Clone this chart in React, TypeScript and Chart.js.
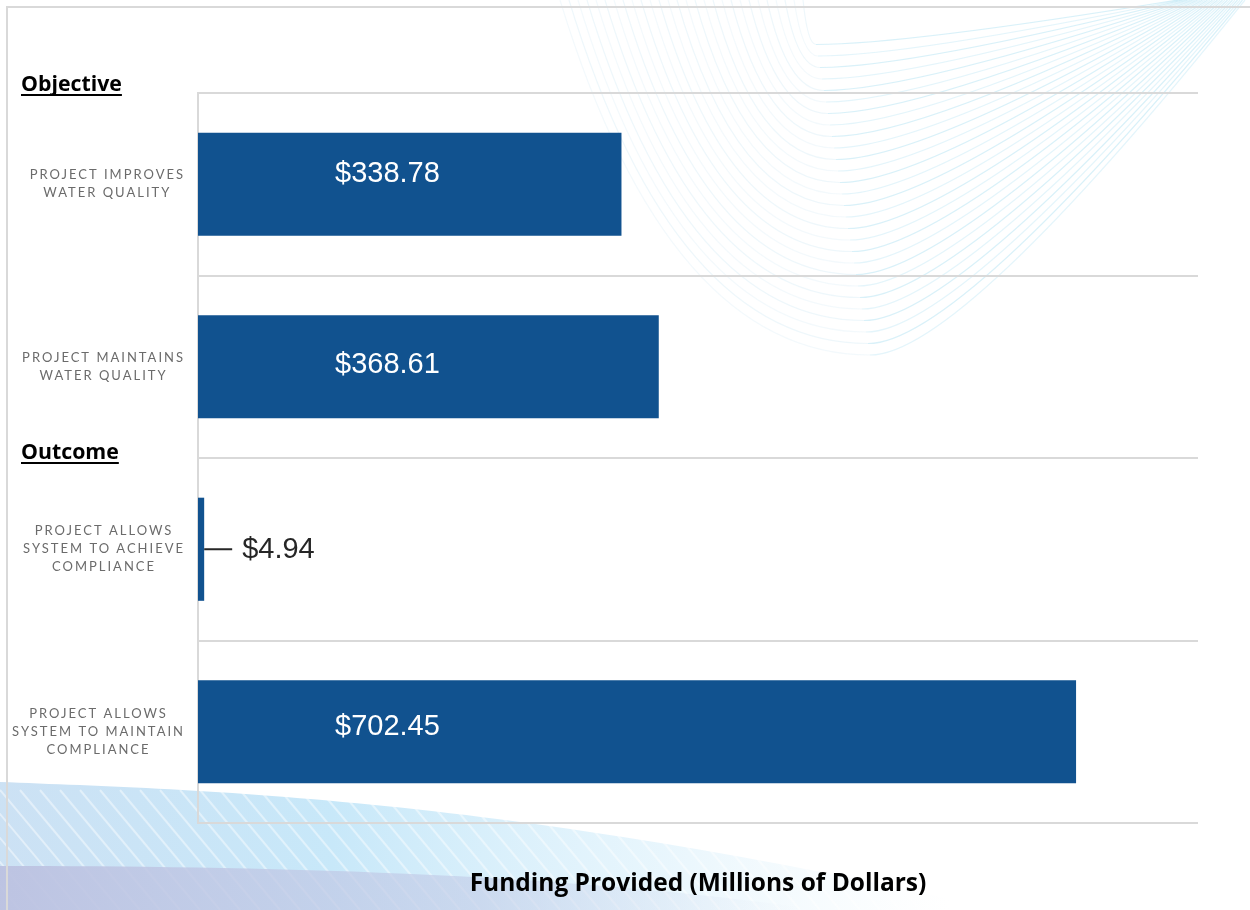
import React, { useEffect, useRef } from "react";
import { Chart, registerables } from "chart.js";

Chart.register(...registerables);

const categories: string[][] = [
  ["PROJECT IMPROVES", "WATER QUALITY"],
  ["PROJECT MAINTAINS", "WATER QUALITY"],
  ["PROJECT ALLOWS", "SYSTEM TO ACHIEVE", "COMPLIANCE"],
  ["PROJECT ALLOWS", "SYSTEM TO MAINTAIN", "COMPLIANCE"],
];
const funding: number[] = [338.78, 368.61, 4.94, 702.45];
const valueLabels: string[] = ["$338.78", "$368.61", "$4.94", "$702.45"];
const xMax = 800;
const sectionHeaders: { text: string; beforeIndex: number }[] = [
  { text: "Objective", beforeIndex: 0 },
  { text: "Outcome", beforeIndex: 2 },
];
const axisTitle = "Funding Provided (Millions of Dollars)";

// styling
const BAR_COLOR = "#11528F";
const GRID_COLOR = "#d9d9d9";
const LABEL_NUDGE = [-10, -2, 0, -5];

const backgroundPlugin = {
  id: "bgDecor",
  beforeDraw(chart: any) {
    const { ctx, width, height } = chart;
    ctx.save();
    ctx.fillStyle = "#ffffff";
    ctx.fillRect(0, 0, width, height);

    // faint nested wave curves top-right
    ctx.lineWidth = 1.2;
    for (let i = 0; i < 28; i++) {
      const sx = 560 + i * 9;
      const vx = 870 - i * 2;
      const vy = 355 - i * 11.5;
      const ex = 1245 - i * 2.5;
      ctx.strokeStyle = `rgba(160, 212, 232, ${0.13 + (i % 2) * 0.05})`;
      ctx.beginPath();
      ctx.moveTo(sx, 0);
      ctx.quadraticCurveTo(sx + (vx - sx) * 0.35, vy, vx, vy);
      ctx.stroke();
      ctx.strokeStyle = `rgba(120, 205, 235, ${0.2 + (i % 2) * 0.08})`;
      ctx.beginPath();
      ctx.moveTo(vx, vy);
      ctx.quadraticCurveTo(vx + 90, vy, ex, 0);
      ctx.stroke();
    }

    // bottom light-blue band
    const g2 = ctx.createLinearGradient(0, 0, 950, 0);
    g2.addColorStop(0, "rgba(195, 220, 242, 0.85)");
    g2.addColorStop(0.35, "rgba(190, 228, 248, 0.85)");
    g2.addColorStop(0.7, "rgba(205, 235, 250, 0.45)");
    g2.addColorStop(1, "rgba(225, 242, 250, 0.0)");
    ctx.fillStyle = g2;
    ctx.beginPath();
    ctx.moveTo(0, 782);
    ctx.bezierCurveTo(200, 790, 500, 796, 1000, 910);
    ctx.lineTo(0, 910);
    ctx.closePath();
    ctx.fill();

    // diagonal stripes in band
    ctx.strokeStyle = "rgba(255,255,255,0.45)";
    ctx.lineWidth = 2;
    for (let k = 0; k < 50; k++) {
      ctx.beginPath();
      ctx.moveTo(-120 + k * 20, 790);
      ctx.lineTo(-20 + k * 20, 910);
      ctx.stroke();
    }

    // bottom lavender band
    const g3 = ctx.createLinearGradient(0, 0, 800, 0);
    g3.addColorStop(0, "rgba(188, 194, 225, 0.95)");
    g3.addColorStop(0.6, "rgba(195, 205, 232, 0.65)");
    g3.addColorStop(1, "rgba(210, 220, 240, 0.0)");
    ctx.fillStyle = g3;
    ctx.beginPath();
    ctx.moveTo(0, 866);
    ctx.bezierCurveTo(250, 866, 560, 872, 820, 910);
    ctx.lineTo(0, 910);
    ctx.closePath();
    ctx.fill();

    // frame
    ctx.strokeStyle = "#d9d9d9";
    ctx.lineWidth = 2;
    ctx.beginPath();
    ctx.moveTo(7, height);
    ctx.lineTo(7, 7);
    ctx.lineTo(width, 7);
    ctx.stroke();
    ctx.restore();
  },
};

const labelsPlugin = {
  id: "customLabels",
  afterDraw(chart: any) {
    const { ctx } = chart;
    const yScale = chart.scales.y;
    const ca = chart.chartArea;
    ctx.save();

    // category labels (letter-spaced, block right-aligned, lines centred)
    ctx.font = "13px Lato";
    ctx.fillStyle = "#6b6b6b";
    ctx.textAlign = "center";
    ctx.textBaseline = "middle";
    try {
      (ctx as any).letterSpacing = "2px";
    } catch (e) {}
    const lineH = 18;
    const blockRight = 185;
    categories.forEach((lines, i) => {
      const cy = yScale.getPixelForValue(i);
      const startY = cy - ((lines.length - 1) * lineH) / 2;
      const maxW = Math.max(...lines.map((l) => ctx.measureText(l).width));
      const cx = blockRight - maxW / 2;
      lines.forEach((ln, j) => {
        ctx.fillText(ln, cx, startY + j * lineH);
      });
    });
    try {
      (ctx as any).letterSpacing = "0px";
    } catch (e) {}

    // section headers
    ctx.font = "bold 21.3px 'Open Sans'";
    ctx.fillStyle = "#000";
    ctx.textAlign = "left";
    ctx.textBaseline = "alphabetic";
    const step = yScale.getPixelForValue(1) - yScale.getPixelForValue(0);
    sectionHeaders.forEach((h) => {
      const boundary = yScale.getPixelForValue(h.beforeIndex) - step / 2;
      const base = h.beforeIndex === 0 ? boundary - 2 : boundary + 1;
      ctx.fillText(h.text, 21, base);
      const w = ctx.measureText(h.text).width;
      ctx.fillRect(21, base + 3, w, 2);
    });

    // value labels
    const meta = chart.getDatasetMeta(0);
    ctx.font = "29px 'Liberation Sans', Arial";
    ctx.textBaseline = "middle";
    meta.data.forEach((bar: any, i: number) => {
      const w = bar.x - bar.base;
      if (w > 150) {
        ctx.fillStyle = "#ffffff";
        ctx.textAlign = "left";
        ctx.fillText(valueLabels[i], ca.left + 137, bar.y + LABEL_NUDGE[i]);
      } else {
        ctx.strokeStyle = "#262626";
        ctx.lineWidth = 2;
        ctx.beginPath();
        ctx.moveTo(bar.x, bar.y);
        ctx.lineTo(bar.x + 28, bar.y);
        ctx.stroke();
        ctx.fillStyle = "#262626";
        ctx.textAlign = "left";
        ctx.fillText(valueLabels[i], bar.x + 38, bar.y + 1 + LABEL_NUDGE[i]);
      }
    });
    ctx.restore();
  },
};

export default function App() {
  const ref = useRef<HTMLCanvasElement | null>(null);
  useEffect(() => {
    if (!ref.current) return;
    const chart = new Chart(ref.current, {
      type: "bar",
      data: {
        labels: categories.map((c) => c.join(" ")),
        datasets: [
          {
            data: funding,
            backgroundColor: BAR_COLOR,
            borderWidth: 0,
            barPercentage: 0.565,
            categoryPercentage: 1,
          },
        ],
      },
      options: {
        indexAxis: "y",
        responsive: false,
        animation: false,
        devicePixelRatio: 1,
        layout: { padding: { top: 93, right: 52, left: 0, bottom: 0 } },
        plugins: {
          legend: { display: false },
          tooltip: { enabled: false },
        },
        scales: {
          y: {
            type: "category",
            offset: true,
            ticks: { display: false },
            grid: { color: GRID_COLOR, lineWidth: 2, drawTicks: false, offset: true },
            border: { display: true, color: GRID_COLOR, width: 2 },
            afterFit: (s: any) => {
              s.width = 198;
            },
          },
          x: {
            type: "linear",
            min: 0,
            max: xMax,
            ticks: { display: false },
            grid: { display: false, drawTicks: false },
            border: { display: false },
            title: {
              display: true,
              text: axisTitle,
              color: "#000",
              font: { family: "'Open Sans'", weight: "bold", size: 24.5 },
              padding: { top: 45, bottom: 11.5 },
            },
            afterFit: (s: any) => {
              s.height = 87;
            },
          },
        },
      } as any,
      plugins: [backgroundPlugin, labelsPlugin],
    });
    return () => chart.destroy();
  }, []);
  return (
    <div style={{ position: "absolute", left: 0, top: 0, width: 1250, height: 910 }}>
      <canvas ref={ref} width={1250} height={910} style={{ width: 1250, height: 910, display: "block" }} />
    </div>
  );
}
